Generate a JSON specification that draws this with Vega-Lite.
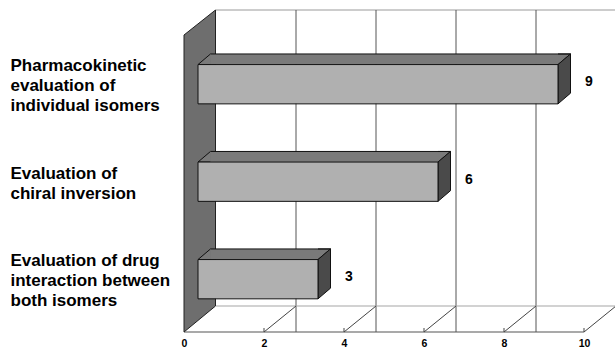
{
  "$schema": "https://vega.github.io/schema/vega-lite/v6.json",
  "autosize": "none",
  "width": 431,
  "height": 322,
  "padding": {"left": 184, "top": 10, "right": 0, "bottom": 16},
  "background": "#ffffff",
  "config": {"view": {"stroke": null}},
  "datasets": {
    "bars": [
      {"category": "Pharmacokinetic\nevaluation of\nindividual isomers", "value": 9},
      {"category": "Evaluation of\nchiral inversion", "value": 6},
      {"category": "Evaluation of drug\ninteraction between\nboth isomers", "value": 3}
    ],
    "ticks": [{"t": 0}, {"t": 2}, {"t": 4}, {"t": 6}, {"t": 8}, {"t": 10}]
  },
  "layer": [
    {
      "description": "back wall top edge",
      "data": {"name": "ticks"},
      "mark": {"type": "rule", "color": "#9a9a9a", "strokeWidth": 1, "xOffset": 32, "x2Offset": 32},
      "encoding": {
        "x": {"aggregate": "min", "field": "t", "type": "quantitative"},
        "x2": {"aggregate": "max", "field": "t"},
        "y": {"value": 0}
      }
    },
    {
      "description": "vertical gridlines on the back wall",
      "data": {"name": "ticks"},
      "transform": [{"filter": "datum.t > 0"}],
      "mark": {"type": "rule", "color": "#555555", "strokeWidth": 1, "xOffset": 32, "y2Offset": -26},
      "encoding": {"x": {"field": "t", "type": "quantitative"}}
    },
    {
      "description": "floor back edge",
      "data": {"name": "ticks"},
      "mark": {"type": "rule", "color": "#a5a5a5", "strokeWidth": 1, "xOffset": 32, "x2Offset": 32, "yOffset": -26},
      "encoding": {
        "x": {"aggregate": "min", "field": "t", "type": "quantitative"},
        "x2": {"aggregate": "max", "field": "t"},
        "y": {"value": "height"}
      }
    },
    {
      "description": "floor diagonals",
      "data": {"name": "ticks"},
      "transform": [{"filter": "datum.t > 0"}],
      "mark": {"type": "rule", "color": "#444444", "strokeWidth": 1, "x2Offset": 32, "y2Offset": -26},
      "encoding": {
        "x": {"field": "t", "type": "quantitative"},
        "x2": {"field": "t"},
        "y": {"value": "height"},
        "y2": {"value": "height"}
      }
    },
    {
      "description": "floor front edge",
      "data": {"name": "ticks"},
      "mark": {"type": "rule", "color": "#555555", "strokeWidth": 1.2},
      "encoding": {
        "x": {"aggregate": "min", "field": "t", "type": "quantitative"},
        "x2": {"aggregate": "max", "field": "t"},
        "y": {"value": "height"}
      }
    },
    {
      "description": "small ticks rising from the floor front edge",
      "data": {"name": "ticks"},
      "transform": [{"filter": "datum.t > 0"}],
      "mark": {"type": "rule", "color": "#444444", "strokeWidth": 1, "y2Offset": -4},
      "encoding": {
        "x": {"field": "t", "type": "quantitative"},
        "y": {"value": "height"},
        "y2": {"value": "height"}
      }
    },
    {
      "description": "side wall",
      "data": {"name": "ticks"},
      "mark": {"type": "point", "shape": "M0,0 L0,-297 L31.5,-322 L31.5,-26 Z", "size": 4, "filled": true, "fill": "#6e6e6e", "stroke": "#222222", "strokeWidth": 1, "opacity": 1},
      "encoding": {
        "x": {"aggregate": "min", "field": "t", "type": "quantitative"},
        "y": {"value": "height"}
      }
    },
    {
      "description": "top face, left end",
      "data": {"name": "bars"},
      "mark": {"type": "point", "shape": "M12.5,-19.65 L0,-19.65 L12.5,-30.25", "size": 4, "filled": true, "fill": "#7a7a7a", "stroke": "#111111", "strokeWidth": 1, "opacity": 1, "xOffset": 14},
      "encoding": {
        "x": {"datum": 0},
        "y": {"field": "category", "type": "nominal", "sort": null}
      }
    },
    {
      "description": "top face, middle",
      "data": {"name": "bars"},
      "mark": {"type": "bar", "fill": "#7a7a7a", "height": 10.6, "xOffset": 14, "x2Offset": 26.5, "yOffset": -24.95},
      "encoding": {
        "x": {"field": "value", "type": "quantitative"},
        "x2": {"datum": 0},
        "y": {"field": "category", "type": "nominal", "sort": null}
      }
    },
    {
      "description": "top face, right end",
      "data": {"name": "bars"},
      "mark": {"type": "point", "shape": "M0,-30.25 L12.5,-30.25 L0,-19.65", "size": 4, "filled": true, "fill": "#7a7a7a", "stroke": "#111111", "strokeWidth": 1, "opacity": 1, "xOffset": 14},
      "encoding": {
        "x": {"field": "value", "type": "quantitative"},
        "y": {"field": "category", "type": "nominal", "sort": null}
      }
    },
    {
      "description": "top face, back edge",
      "data": {"name": "bars"},
      "mark": {"type": "rule", "color": "#111111", "strokeWidth": 1, "xOffset": 26.5, "x2Offset": 26.5, "yOffset": -30.25},
      "encoding": {
        "x": {"field": "value", "type": "quantitative"},
        "x2": {"datum": 0},
        "y": {"field": "category", "type": "nominal", "sort": null}
      }
    },
    {
      "description": "side face",
      "data": {"name": "bars"},
      "mark": {"type": "point", "shape": "M0,-19.65 L12.5,-30.25 L12.5,8.95 L0,19.65 Z", "size": 4, "filled": true, "fill": "#4a4a4a", "stroke": "#111111", "strokeWidth": 1, "opacity": 1, "xOffset": 14},
      "encoding": {
        "x": {"field": "value", "type": "quantitative"},
        "y": {"field": "category", "type": "nominal", "sort": null}
      }
    },
    {
      "description": "front face",
      "data": {"name": "bars"},
      "mark": {"type": "bar", "fill": "#b0b0b0", "stroke": "#111111", "strokeWidth": 1, "xOffset": 14, "x2Offset": 14},
      "encoding": {
        "x": {"field": "value", "type": "quantitative"},
        "x2": {"datum": 0},
        "y": {
          "field": "category",
          "type": "nominal",
          "sort": null,
          "scale": {"paddingInner": 0.597, "paddingOuter": 0.45, "align": 0.622},
          "axis": {
            "title": null,
            "domain": false,
            "ticks": false,
            "tickSize": 0,
            "labelPadding": 174,
            "labelAlign": "left",
            "labelBaseline": "middle",
            "labelFont": "Liberation Sans",
            "labelFontSize": 17,
            "labelFontWeight": "bold",
            "labelColor": "#000000",
            "labelLineHeight": 20,
            "labelOffset": {"expr": "2 - (length(split(datum.value, '\\n')) - 1) * 10"},
            "labelLimit": 400,
            "labelExpr": "split(datum.label, '\\n')"
          }
        }
      }
    },
    {
      "description": "value labels",
      "data": {"name": "bars"},
      "mark": {"type": "text", "font": "Liberation Sans", "fontSize": 14, "fontWeight": "bold", "color": "#000000", "align": "center", "baseline": "middle", "xOffset": 45, "dy": -2},
      "encoding": {
        "x": {
          "field": "value",
          "type": "quantitative",
          "scale": {"domain": [0, 10.775], "nice": false, "zero": false},
          "axis": {
            "title": null,
            "values": [0, 2, 4, 6, 8, 10],
            "domain": false,
            "grid": false,
            "ticks": false,
            "tickSize": 0,
            "labelPadding": 6,
            "labelFont": "Liberation Sans",
            "labelFontSize": 10.5,
            "labelFontWeight": "bold",
            "labelColor": "#000000",
            "labelFlush": false,
            "labelOverlap": false
          }
        },
        "y": {"field": "category", "type": "nominal", "sort": null},
        "text": {"field": "value", "type": "quantitative"}
      }
    }
  ]
}
